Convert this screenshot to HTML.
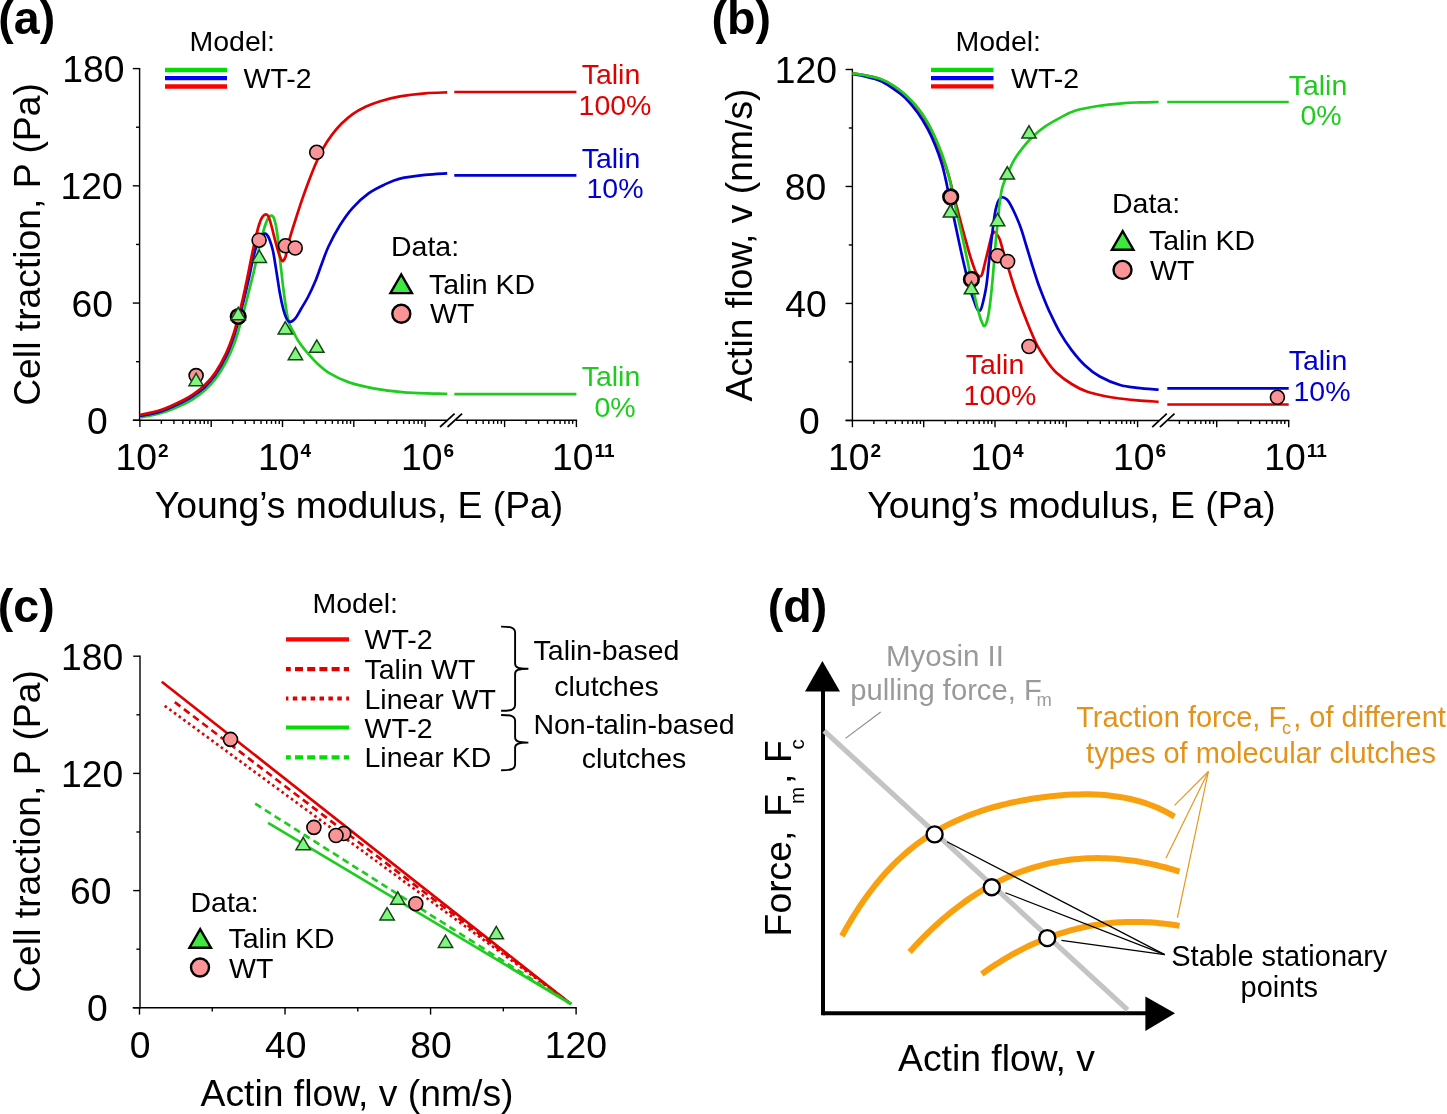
<!DOCTYPE html>
<html><head><meta charset="utf-8"><title>Figure</title><style>html,body{margin:0;padding:0;background:#fff;width:1447px;height:1114px;overflow:hidden}svg{display:block;font-family:"Liberation Sans",sans-serif;will-change:transform}</style></head><body>
<svg width="1447" height="1114" viewBox="0 0 1447 1114" font-family="Liberation Sans, sans-serif">
<line x1="139.6" y1="67.9" x2="139.6" y2="421" stroke="#000" stroke-width="1.4" />
<line x1="132.8" y1="68.6" x2="139.6" y2="68.6" stroke="#000" stroke-width="1.4" />
<line x1="136" y1="127.22" x2="139.6" y2="127.22" stroke="#000" stroke-width="1.4" />
<line x1="132.8" y1="185.83" x2="139.6" y2="185.83" stroke="#000" stroke-width="1.4" />
<line x1="136" y1="244.45" x2="139.6" y2="244.45" stroke="#000" stroke-width="1.4" />
<line x1="132.8" y1="303.07" x2="139.6" y2="303.07" stroke="#000" stroke-width="1.4" />
<line x1="136" y1="361.68" x2="139.6" y2="361.68" stroke="#000" stroke-width="1.4" />
<line x1="132.8" y1="420.3" x2="139.6" y2="420.3" stroke="#000" stroke-width="1.4" />
<line x1="133.1" y1="420.3" x2="446.8" y2="420.3" stroke="#000" stroke-width="1.5" />
<line x1="455.8" y1="420.3" x2="577.1" y2="420.3" stroke="#000" stroke-width="1.5" />
<line x1="139.9" y1="420.3" x2="139.9" y2="427.1" stroke="#000" stroke-width="1.4" />
<line x1="161.36" y1="420.3" x2="161.36" y2="423.9" stroke="#000" stroke-width="1.4" />
<line x1="173.92" y1="420.3" x2="173.92" y2="423.9" stroke="#000" stroke-width="1.4" />
<line x1="182.83" y1="420.3" x2="182.83" y2="423.9" stroke="#000" stroke-width="1.4" />
<line x1="189.74" y1="420.3" x2="189.74" y2="423.9" stroke="#000" stroke-width="1.4" />
<line x1="195.38" y1="420.3" x2="195.38" y2="423.9" stroke="#000" stroke-width="1.4" />
<line x1="200.16" y1="420.3" x2="200.16" y2="423.9" stroke="#000" stroke-width="1.4" />
<line x1="204.29" y1="420.3" x2="204.29" y2="423.9" stroke="#000" stroke-width="1.4" />
<line x1="207.94" y1="420.3" x2="207.94" y2="423.9" stroke="#000" stroke-width="1.4" />
<line x1="211.2" y1="420.3" x2="211.2" y2="427.1" stroke="#000" stroke-width="1.4" />
<line x1="232.66" y1="420.3" x2="232.66" y2="423.9" stroke="#000" stroke-width="1.4" />
<line x1="245.22" y1="420.3" x2="245.22" y2="423.9" stroke="#000" stroke-width="1.4" />
<line x1="254.13" y1="420.3" x2="254.13" y2="423.9" stroke="#000" stroke-width="1.4" />
<line x1="261.04" y1="420.3" x2="261.04" y2="423.9" stroke="#000" stroke-width="1.4" />
<line x1="266.68" y1="420.3" x2="266.68" y2="423.9" stroke="#000" stroke-width="1.4" />
<line x1="271.46" y1="420.3" x2="271.46" y2="423.9" stroke="#000" stroke-width="1.4" />
<line x1="275.59" y1="420.3" x2="275.59" y2="423.9" stroke="#000" stroke-width="1.4" />
<line x1="279.24" y1="420.3" x2="279.24" y2="423.9" stroke="#000" stroke-width="1.4" />
<line x1="282.5" y1="420.3" x2="282.5" y2="427.1" stroke="#000" stroke-width="1.4" />
<line x1="303.96" y1="420.3" x2="303.96" y2="423.9" stroke="#000" stroke-width="1.4" />
<line x1="316.52" y1="420.3" x2="316.52" y2="423.9" stroke="#000" stroke-width="1.4" />
<line x1="325.43" y1="420.3" x2="325.43" y2="423.9" stroke="#000" stroke-width="1.4" />
<line x1="332.34" y1="420.3" x2="332.34" y2="423.9" stroke="#000" stroke-width="1.4" />
<line x1="337.98" y1="420.3" x2="337.98" y2="423.9" stroke="#000" stroke-width="1.4" />
<line x1="342.76" y1="420.3" x2="342.76" y2="423.9" stroke="#000" stroke-width="1.4" />
<line x1="346.89" y1="420.3" x2="346.89" y2="423.9" stroke="#000" stroke-width="1.4" />
<line x1="350.54" y1="420.3" x2="350.54" y2="423.9" stroke="#000" stroke-width="1.4" />
<line x1="353.8" y1="420.3" x2="353.8" y2="427.1" stroke="#000" stroke-width="1.4" />
<line x1="375.26" y1="420.3" x2="375.26" y2="423.9" stroke="#000" stroke-width="1.4" />
<line x1="387.82" y1="420.3" x2="387.82" y2="423.9" stroke="#000" stroke-width="1.4" />
<line x1="396.73" y1="420.3" x2="396.73" y2="423.9" stroke="#000" stroke-width="1.4" />
<line x1="403.64" y1="420.3" x2="403.64" y2="423.9" stroke="#000" stroke-width="1.4" />
<line x1="409.28" y1="420.3" x2="409.28" y2="423.9" stroke="#000" stroke-width="1.4" />
<line x1="414.06" y1="420.3" x2="414.06" y2="423.9" stroke="#000" stroke-width="1.4" />
<line x1="418.19" y1="420.3" x2="418.19" y2="423.9" stroke="#000" stroke-width="1.4" />
<line x1="421.84" y1="420.3" x2="421.84" y2="423.9" stroke="#000" stroke-width="1.4" />
<line x1="425.1" y1="420.3" x2="425.1" y2="427.1" stroke="#000" stroke-width="1.4" />
<line x1="467.32" y1="420.3" x2="467.32" y2="423.9" stroke="#000" stroke-width="1.4" />
<line x1="476.23" y1="420.3" x2="476.23" y2="423.9" stroke="#000" stroke-width="1.4" />
<line x1="483.14" y1="420.3" x2="483.14" y2="423.9" stroke="#000" stroke-width="1.4" />
<line x1="488.78" y1="420.3" x2="488.78" y2="423.9" stroke="#000" stroke-width="1.4" />
<line x1="493.56" y1="420.3" x2="493.56" y2="423.9" stroke="#000" stroke-width="1.4" />
<line x1="497.69" y1="420.3" x2="497.69" y2="423.9" stroke="#000" stroke-width="1.4" />
<line x1="501.34" y1="420.3" x2="501.34" y2="423.9" stroke="#000" stroke-width="1.4" />
<line x1="526.06" y1="420.3" x2="526.06" y2="423.9" stroke="#000" stroke-width="1.4" />
<line x1="538.62" y1="420.3" x2="538.62" y2="423.9" stroke="#000" stroke-width="1.4" />
<line x1="547.53" y1="420.3" x2="547.53" y2="423.9" stroke="#000" stroke-width="1.4" />
<line x1="554.44" y1="420.3" x2="554.44" y2="423.9" stroke="#000" stroke-width="1.4" />
<line x1="560.08" y1="420.3" x2="560.08" y2="423.9" stroke="#000" stroke-width="1.4" />
<line x1="564.86" y1="420.3" x2="564.86" y2="423.9" stroke="#000" stroke-width="1.4" />
<line x1="568.99" y1="420.3" x2="568.99" y2="423.9" stroke="#000" stroke-width="1.4" />
<line x1="572.64" y1="420.3" x2="572.64" y2="423.9" stroke="#000" stroke-width="1.4" />
<line x1="504.6" y1="420.3" x2="504.6" y2="427.1" stroke="#000" stroke-width="1.4" />
<line x1="576.4" y1="420.3" x2="576.4" y2="427.1" stroke="#000" stroke-width="1.4" />
<line x1="440" y1="427" x2="454.6" y2="413.6" stroke="#000" stroke-width="1.7" />
<line x1="447.5" y1="427" x2="462.1" y2="413.6" stroke="#000" stroke-width="1.7" />
<text x="93.31" y="82.1" font-size="37.3" fill="#000" text-anchor="middle" >180</text>
<text x="91.71" y="199.33" font-size="37.3" fill="#000" text-anchor="middle" >120</text>
<text x="92.28" y="316.57" font-size="37.3" fill="#000" text-anchor="middle" >60</text>
<text x="97.3" y="433.8" font-size="37.3" fill="#000" text-anchor="middle" >0</text>
<text x="115.4" y="469.8" font-size="37.3">10<tspan font-size="19" font-weight="bold" dy="-13.3" dx="1.0">2</tspan></text>
<text x="258" y="469.8" font-size="37.3">10<tspan font-size="19" font-weight="bold" dy="-13.3" dx="1.0">4</tspan></text>
<text x="401" y="469.8" font-size="37.3">10<tspan font-size="19" font-weight="bold" dy="-13.3" dx="1.0">6</tspan></text>
<text x="551.9" y="469.8" font-size="37.3">10<tspan font-size="19" font-weight="bold" dy="-13.3" dx="1.0">11</tspan></text>
<text x="359" y="517.7" font-size="37.3" fill="#000" text-anchor="middle" >Young’s modulus, E (Pa)</text>
<text x="39.5" y="244.5" font-size="37.3" text-anchor="middle" transform="rotate(-90 39.5 244.5)">Cell traction, P (Pa)</text>
<text x="-1.7" y="34.4" font-size="46.5" fill="#000" font-weight="bold" >(a)</text>
<text x="189.5" y="50.6" font-size="28.5" fill="#000" >Model:</text>
<line x1="165" y1="70" x2="227" y2="70" stroke="#00e000" stroke-width="4.3" />
<line x1="165" y1="78.2" x2="227" y2="78.2" stroke="#0000ff" stroke-width="4.3" />
<line x1="165" y1="86.5" x2="227" y2="86.5" stroke="#ff0000" stroke-width="4.3" />
<text x="243.5" y="88" font-size="28.5" fill="#000" >WT-2</text>
<path d="M140,417.3 C143.58,416.58 154.32,415.15 161.5,413 C168.68,410.85 177.7,406.8 183.1,404.4 C188.5,402 190.32,400.9 193.9,398.6 C197.48,396.3 201.02,393.87 204.6,390.6 C208.18,387.33 211.8,383.85 215.4,379 C219,374.15 222.97,367.67 226.2,361.5 C229.43,355.33 232.28,348.83 234.8,342 C237.32,335.17 239.4,327.17 241.3,320.5 C243.2,313.83 244.67,307.92 246.2,302 C247.73,296.08 248.93,291.33 250.5,285 C252.07,278.67 254.02,270.83 255.6,264 C257.18,257.17 258.6,249.83 260,244 C261.4,238.17 262.75,233.08 264,229 C265.25,224.92 266.33,221.72 267.5,219.5 C268.67,217.28 269.92,215.87 271,215.7 C272.08,215.53 273,215.78 274,218.5 C275,221.22 275.97,224.92 277,232 C278.03,239.08 279.03,250.67 280.2,261 C281.37,271.33 282.73,284.5 284,294 C285.27,303.5 286.63,312.42 287.8,318 C288.97,323.58 289.97,325 291,327.5 C292.03,330 292.83,330.83 294,333 C295.17,335.17 296.18,337.7 298,340.5 C299.82,343.3 301.68,345.98 304.9,349.8 C308.12,353.62 313.15,359.47 317.3,363.4 C321.45,367.33 324.62,370.28 329.8,373.4 C334.98,376.52 341.15,379.62 348.4,382.1 C355.65,384.58 363.97,386.6 373.3,388.3 C382.63,390 392.07,391.37 404.4,392.3 C416.73,393.23 440.15,393.63 447.3,393.9" fill="none" stroke="#1ecc1e" stroke-width="2.7" stroke-linejoin="round" />
<path d="M140,416 C143.58,415.2 154.32,413.57 161.5,411.2 C168.68,408.83 177.7,404.42 183.1,401.8 C188.5,399.18 190.32,397.93 193.9,395.5 C197.48,393.07 201.02,390.65 204.6,387.2 C208.18,383.75 211.8,380 215.4,374.8 C219,369.6 223.1,362.47 226.2,356 C229.3,349.53 231.77,342.67 234,336 C236.23,329.33 238.02,321.83 239.6,316 C241.18,310.17 242.02,307 243.5,301 C244.98,295 246.92,287 248.5,280 C250.08,273 251.58,265 253,259 C254.42,253 255.75,247.75 257,244 C258.25,240.25 259.42,238.2 260.5,236.5 C261.58,234.8 262.5,234.18 263.5,233.8 C264.5,233.42 265.5,233.25 266.5,234.2 C267.5,235.15 268.42,236.7 269.5,239.5 C270.58,242.3 271.83,245.58 273,251 C274.17,256.42 275.33,264.83 276.5,272 C277.67,279.17 278.83,287.67 280,294 C281.17,300.33 282.42,305.92 283.5,310 C284.58,314.08 285.53,316.53 286.5,318.5 C287.47,320.47 288.3,321.38 289.3,321.8 C290.3,322.22 291.38,321.72 292.5,321 C293.62,320.28 294.58,319.5 296,317.5 C297.42,315.5 299,312.42 301,309 C303,305.58 305.6,301.67 308,297 C310.4,292.33 313.15,286.42 315.4,281 C317.65,275.58 319.32,270.25 321.5,264.5 C323.68,258.75 325.45,253 328.5,246.5 C331.55,240 335.77,231.95 339.8,225.5 C343.83,219.05 347.85,213.18 352.7,207.8 C357.55,202.42 363.52,197.1 368.9,193.2 C374.28,189.3 379.82,186.83 385,184.4 C390.18,181.97 393.33,180.18 400,178.6 C406.67,177.02 417.13,175.78 425,174.9 C432.87,174.02 443.5,173.57 447.2,173.3" fill="none" stroke="#0000d0" stroke-width="2.7" stroke-linejoin="round" />
<path d="M140,415 C143.58,414.13 154.32,412.27 161.5,409.8 C168.68,407.33 177.7,402.88 183.1,400.2 C188.5,397.52 190.32,396.2 193.9,393.7 C197.48,391.2 201.02,388.75 204.6,385.2 C208.18,381.65 211.8,377.77 215.4,372.4 C219,367.03 223.15,359.48 226.2,353 C229.25,346.52 231.55,340 233.7,333.5 C235.85,327 237.55,319.92 239.1,314 C240.65,308.08 241.63,304 243,298 C244.37,292 245.88,284.83 247.3,278 C248.72,271.17 250.12,263.67 251.5,257 C252.88,250.33 254.35,243.33 255.6,238 C256.85,232.67 257.93,228.42 259,225 C260.07,221.58 260.92,219.28 262,217.5 C263.08,215.72 264.42,214.47 265.5,214.3 C266.58,214.13 267.5,214.55 268.5,216.5 C269.5,218.45 270.42,222.08 271.5,226 C272.58,229.92 273.87,235.68 275,240 C276.13,244.32 277.3,248.73 278.3,251.9 C279.3,255.07 280.22,257.48 281,259 C281.78,260.52 282.23,261.42 283,261 C283.77,260.58 284.48,260.25 285.6,256.5 C286.72,252.75 287.93,245 289.7,238.5 C291.47,232 294.05,224.23 296.2,217.5 C298.35,210.77 300.45,204.3 302.6,198.1 C304.75,191.9 306.95,185.95 309.1,180.3 C311.25,174.65 313.22,169.45 315.5,164.2 C317.78,158.95 320.1,153.65 322.8,148.8 C325.5,143.95 328.6,139.27 331.7,135.1 C334.8,130.93 337.9,127.3 341.4,123.8 C344.9,120.3 348.67,116.93 352.7,114.1 C356.73,111.27 361.02,108.95 365.6,106.8 C370.18,104.65 374.47,102.95 380.2,101.2 C385.93,99.45 392.53,97.62 400,96.3 C407.47,94.98 417.13,93.95 425,93.3 C432.87,92.65 443.5,92.55 447.2,92.4" fill="none" stroke="#e00000" stroke-width="2.7" stroke-linejoin="round" />
<line x1="454.3" y1="92" x2="576.4" y2="92" stroke="#e00000" stroke-width="2.7" />
<line x1="454.3" y1="175.4" x2="576.4" y2="175.4" stroke="#0000d0" stroke-width="2.7" />
<line x1="454.3" y1="394.1" x2="576.4" y2="394.1" stroke="#1ecc1e" stroke-width="2.7" />
<text x="611" y="84.1" font-size="28.5" fill="#e00000" text-anchor="middle" >Talin</text>
<text x="615" y="114.6" font-size="28.5" fill="#e00000" text-anchor="middle" >100%</text>
<text x="611" y="167.7" font-size="28.5" fill="#0000d0" text-anchor="middle" >Talin</text>
<text x="615" y="198.4" font-size="28.5" fill="#0000d0" text-anchor="middle" >10%</text>
<text x="611" y="386.3" font-size="28.5" fill="#1ecc1e" text-anchor="middle" >Talin</text>
<text x="615" y="416.8" font-size="28.5" fill="#1ecc1e" text-anchor="middle" >0%</text>
<text x="391" y="256.3" font-size="28.5" fill="#000" >Data:</text>
<path d="M401.2,274.5 L390.45,293.1 L411.95,293.1 Z" fill="#3ee83e" stroke="#000" stroke-width="2.4" stroke-linejoin="miter"/>
<text x="429" y="294" font-size="28.5" fill="#000" >Talin KD</text>
<circle cx="401.3" cy="313.8" r="9" fill="#fb9496" stroke="#000" stroke-width="2.4"/>
<text x="430" y="323.3" font-size="28.5" fill="#000" >WT</text>
<circle cx="196.1" cy="375.6" r="7" fill="#fb9496" stroke="#000" stroke-width="1.6"/>
<circle cx="259.1" cy="240.2" r="7" fill="#fb9496" stroke="#000" stroke-width="1.6"/>
<circle cx="285.5" cy="245.8" r="7" fill="#fb9496" stroke="#000" stroke-width="1.6"/>
<circle cx="295.2" cy="248" r="7" fill="#fb9496" stroke="#000" stroke-width="1.6"/>
<circle cx="316.7" cy="152.3" r="7" fill="#fb9496" stroke="#000" stroke-width="1.6"/>
<circle cx="238.2" cy="316.5" r="7.3" fill="#fb9496" stroke="#000" stroke-width="2.6"/>
<path d="M196.1,373.35 L188.95,385.65 L203.25,385.65 Z" fill="#80f580" stroke="#154515" stroke-width="1.5" stroke-linejoin="miter"/>
<path d="M238.2,307.35 L231.05,319.65 L245.35,319.65 Z" fill="#80f580" stroke="#154515" stroke-width="1.5" stroke-linejoin="miter"/>
<path d="M259.3,250.15 L252.15,262.45 L266.45,262.45 Z" fill="#80f580" stroke="#154515" stroke-width="1.5" stroke-linejoin="miter"/>
<path d="M285.3,321.65 L278.15,333.95 L292.45,333.95 Z" fill="#80f580" stroke="#154515" stroke-width="1.5" stroke-linejoin="miter"/>
<path d="M295.4,347.35 L288.25,359.65 L302.55,359.65 Z" fill="#80f580" stroke="#154515" stroke-width="1.5" stroke-linejoin="miter"/>
<path d="M316.8,339.95 L309.65,352.25 L323.95,352.25 Z" fill="#80f580" stroke="#154515" stroke-width="1.5" stroke-linejoin="miter"/>
<line x1="852.4" y1="68.8" x2="852.4" y2="421.1" stroke="#000" stroke-width="1.4" />
<line x1="845.6" y1="69.5" x2="852.4" y2="69.5" stroke="#000" stroke-width="1.4" />
<line x1="848.8" y1="127.98" x2="852.4" y2="127.98" stroke="#000" stroke-width="1.4" />
<line x1="845.6" y1="186.47" x2="852.4" y2="186.47" stroke="#000" stroke-width="1.4" />
<line x1="848.8" y1="244.95" x2="852.4" y2="244.95" stroke="#000" stroke-width="1.4" />
<line x1="845.6" y1="303.43" x2="852.4" y2="303.43" stroke="#000" stroke-width="1.4" />
<line x1="848.8" y1="361.92" x2="852.4" y2="361.92" stroke="#000" stroke-width="1.4" />
<line x1="845.6" y1="420.4" x2="852.4" y2="420.4" stroke="#000" stroke-width="1.4" />
<line x1="845.6" y1="420.4" x2="1159" y2="420.4" stroke="#000" stroke-width="1.5" />
<line x1="1168.2" y1="420.4" x2="1289.4" y2="420.4" stroke="#000" stroke-width="1.5" />
<line x1="852.4" y1="420.4" x2="852.4" y2="427.2" stroke="#000" stroke-width="1.4" />
<line x1="873.86" y1="420.4" x2="873.86" y2="424" stroke="#000" stroke-width="1.4" />
<line x1="886.42" y1="420.4" x2="886.42" y2="424" stroke="#000" stroke-width="1.4" />
<line x1="895.33" y1="420.4" x2="895.33" y2="424" stroke="#000" stroke-width="1.4" />
<line x1="902.24" y1="420.4" x2="902.24" y2="424" stroke="#000" stroke-width="1.4" />
<line x1="907.88" y1="420.4" x2="907.88" y2="424" stroke="#000" stroke-width="1.4" />
<line x1="912.66" y1="420.4" x2="912.66" y2="424" stroke="#000" stroke-width="1.4" />
<line x1="916.79" y1="420.4" x2="916.79" y2="424" stroke="#000" stroke-width="1.4" />
<line x1="920.44" y1="420.4" x2="920.44" y2="424" stroke="#000" stroke-width="1.4" />
<line x1="923.7" y1="420.4" x2="923.7" y2="427.2" stroke="#000" stroke-width="1.4" />
<line x1="945.16" y1="420.4" x2="945.16" y2="424" stroke="#000" stroke-width="1.4" />
<line x1="957.72" y1="420.4" x2="957.72" y2="424" stroke="#000" stroke-width="1.4" />
<line x1="966.63" y1="420.4" x2="966.63" y2="424" stroke="#000" stroke-width="1.4" />
<line x1="973.54" y1="420.4" x2="973.54" y2="424" stroke="#000" stroke-width="1.4" />
<line x1="979.18" y1="420.4" x2="979.18" y2="424" stroke="#000" stroke-width="1.4" />
<line x1="983.96" y1="420.4" x2="983.96" y2="424" stroke="#000" stroke-width="1.4" />
<line x1="988.09" y1="420.4" x2="988.09" y2="424" stroke="#000" stroke-width="1.4" />
<line x1="991.74" y1="420.4" x2="991.74" y2="424" stroke="#000" stroke-width="1.4" />
<line x1="995" y1="420.4" x2="995" y2="427.2" stroke="#000" stroke-width="1.4" />
<line x1="1016.46" y1="420.4" x2="1016.46" y2="424" stroke="#000" stroke-width="1.4" />
<line x1="1029.02" y1="420.4" x2="1029.02" y2="424" stroke="#000" stroke-width="1.4" />
<line x1="1037.93" y1="420.4" x2="1037.93" y2="424" stroke="#000" stroke-width="1.4" />
<line x1="1044.84" y1="420.4" x2="1044.84" y2="424" stroke="#000" stroke-width="1.4" />
<line x1="1050.48" y1="420.4" x2="1050.48" y2="424" stroke="#000" stroke-width="1.4" />
<line x1="1055.26" y1="420.4" x2="1055.26" y2="424" stroke="#000" stroke-width="1.4" />
<line x1="1059.39" y1="420.4" x2="1059.39" y2="424" stroke="#000" stroke-width="1.4" />
<line x1="1063.04" y1="420.4" x2="1063.04" y2="424" stroke="#000" stroke-width="1.4" />
<line x1="1066.3" y1="420.4" x2="1066.3" y2="427.2" stroke="#000" stroke-width="1.4" />
<line x1="1087.76" y1="420.4" x2="1087.76" y2="424" stroke="#000" stroke-width="1.4" />
<line x1="1100.32" y1="420.4" x2="1100.32" y2="424" stroke="#000" stroke-width="1.4" />
<line x1="1109.23" y1="420.4" x2="1109.23" y2="424" stroke="#000" stroke-width="1.4" />
<line x1="1116.14" y1="420.4" x2="1116.14" y2="424" stroke="#000" stroke-width="1.4" />
<line x1="1121.78" y1="420.4" x2="1121.78" y2="424" stroke="#000" stroke-width="1.4" />
<line x1="1126.56" y1="420.4" x2="1126.56" y2="424" stroke="#000" stroke-width="1.4" />
<line x1="1130.69" y1="420.4" x2="1130.69" y2="424" stroke="#000" stroke-width="1.4" />
<line x1="1134.34" y1="420.4" x2="1134.34" y2="424" stroke="#000" stroke-width="1.4" />
<line x1="1137.6" y1="420.4" x2="1137.6" y2="427.2" stroke="#000" stroke-width="1.4" />
<line x1="1179.42" y1="420.4" x2="1179.42" y2="424" stroke="#000" stroke-width="1.4" />
<line x1="1188.33" y1="420.4" x2="1188.33" y2="424" stroke="#000" stroke-width="1.4" />
<line x1="1195.24" y1="420.4" x2="1195.24" y2="424" stroke="#000" stroke-width="1.4" />
<line x1="1200.88" y1="420.4" x2="1200.88" y2="424" stroke="#000" stroke-width="1.4" />
<line x1="1205.66" y1="420.4" x2="1205.66" y2="424" stroke="#000" stroke-width="1.4" />
<line x1="1209.79" y1="420.4" x2="1209.79" y2="424" stroke="#000" stroke-width="1.4" />
<line x1="1213.44" y1="420.4" x2="1213.44" y2="424" stroke="#000" stroke-width="1.4" />
<line x1="1238.16" y1="420.4" x2="1238.16" y2="424" stroke="#000" stroke-width="1.4" />
<line x1="1250.72" y1="420.4" x2="1250.72" y2="424" stroke="#000" stroke-width="1.4" />
<line x1="1259.63" y1="420.4" x2="1259.63" y2="424" stroke="#000" stroke-width="1.4" />
<line x1="1266.54" y1="420.4" x2="1266.54" y2="424" stroke="#000" stroke-width="1.4" />
<line x1="1272.18" y1="420.4" x2="1272.18" y2="424" stroke="#000" stroke-width="1.4" />
<line x1="1276.96" y1="420.4" x2="1276.96" y2="424" stroke="#000" stroke-width="1.4" />
<line x1="1281.09" y1="420.4" x2="1281.09" y2="424" stroke="#000" stroke-width="1.4" />
<line x1="1284.74" y1="420.4" x2="1284.74" y2="424" stroke="#000" stroke-width="1.4" />
<line x1="1216.7" y1="420.4" x2="1216.7" y2="427.2" stroke="#000" stroke-width="1.4" />
<line x1="1288.7" y1="420.4" x2="1288.7" y2="427.2" stroke="#000" stroke-width="1.4" />
<line x1="1152.2" y1="427.1" x2="1166.8" y2="413.7" stroke="#000" stroke-width="1.7" />
<line x1="1159.9" y1="427.1" x2="1174.5" y2="413.7" stroke="#000" stroke-width="1.7" />
<text x="805.81" y="83" font-size="37.3" fill="#000" text-anchor="middle" >120</text>
<text x="805.62" y="199.97" font-size="37.3" fill="#000" text-anchor="middle" >80</text>
<text x="806.1" y="316.93" font-size="37.3" fill="#000" text-anchor="middle" >40</text>
<text x="809.4" y="433.9" font-size="37.3" fill="#000" text-anchor="middle" >0</text>
<text x="827.9" y="469.8" font-size="37.3">10<tspan font-size="19" font-weight="bold" dy="-13.3" dx="1.0">2</tspan></text>
<text x="970.5" y="469.8" font-size="37.3">10<tspan font-size="19" font-weight="bold" dy="-13.3" dx="1.0">4</tspan></text>
<text x="1113.1" y="469.8" font-size="37.3">10<tspan font-size="19" font-weight="bold" dy="-13.3" dx="1.0">6</tspan></text>
<text x="1264.2" y="469.8" font-size="37.3">10<tspan font-size="19" font-weight="bold" dy="-13.3" dx="1.0">11</tspan></text>
<text x="1071.5" y="517.7" font-size="37.3" fill="#000" text-anchor="middle" >Young’s modulus, E (Pa)</text>
<text x="752" y="245" font-size="37.3" text-anchor="middle" transform="rotate(-90 752 245)">Actin flow, v (nm/s)</text>
<text x="711.5" y="33.5" font-size="46.5" fill="#000" font-weight="bold" >(b)</text>
<text x="955.5" y="50.6" font-size="28.5" fill="#000" >Model:</text>
<line x1="931" y1="69.9" x2="993.5" y2="69.9" stroke="#00e000" stroke-width="4.3" />
<line x1="931" y1="78.1" x2="993.5" y2="78.1" stroke="#0000ff" stroke-width="4.3" />
<line x1="931" y1="86.4" x2="993.5" y2="86.4" stroke="#ff0000" stroke-width="4.3" />
<text x="1011" y="88" font-size="28.5" fill="#000" >WT-2</text>
<path d="M852.4,73.3 C854.5,73.63 860.4,74.37 865,75.3 C869.6,76.23 875.4,77.23 880,78.9 C884.6,80.57 888.42,82.62 892.6,85.3 C896.78,87.98 900.92,91.13 905.1,95 C909.28,98.87 913.92,103.67 917.7,108.5 C921.48,113.33 924.87,118.83 927.8,124 C930.73,129.17 933,134.33 935.3,139.5 C937.6,144.67 939.82,150.33 941.6,155 C943.38,159.67 944.7,163.67 946,167.5 C947.3,171.33 948.33,174.25 949.4,178 C950.47,181.75 951.38,186 952.4,190 C953.42,194 954.48,198.08 955.5,202 C956.52,205.92 957.52,209.75 958.5,213.5 C959.48,217.25 960.42,220.83 961.4,224.5 C962.38,228.17 963.4,231.85 964.4,235.5 C965.4,239.15 966.37,242.73 967.4,246.4 C968.43,250.07 969.53,254.07 970.6,257.5 C971.67,260.93 972.82,264.33 973.8,267 C974.78,269.67 975.55,271.9 976.5,273.5 C977.45,275.1 978.58,276.43 979.5,276.6 C980.42,276.77 981.13,276.6 982,274.5 C982.87,272.4 983.45,269.07 984.7,264 C985.95,258.93 988.32,248.93 989.5,244.1 C990.68,239.27 991.12,237.02 991.8,235 C992.48,232.98 992.98,232.37 993.6,232 C994.22,231.63 994.83,232.22 995.5,232.8 C996.17,233.38 996.85,234.3 997.6,235.5 C998.35,236.7 999.02,237.17 1000,240 C1000.98,242.83 1002.25,248.27 1003.5,252.5 C1004.75,256.73 1005.57,259.18 1007.5,265.4 C1009.43,271.62 1012.58,282.27 1015.1,289.8 C1017.62,297.33 1020.1,304 1022.6,310.6 C1025.1,317.2 1027.58,323.43 1030.1,329.4 C1032.62,335.37 1034.87,341.07 1037.7,346.4 C1040.53,351.73 1043.97,357.02 1047.1,361.4 C1050.23,365.78 1052.42,368.93 1056.5,372.7 C1060.58,376.47 1066.57,380.85 1071.6,384 C1076.63,387.15 1081.05,389.55 1086.7,391.6 C1092.35,393.65 1099.95,395.15 1105.5,396.3 C1111.05,397.45 1114.7,397.83 1120,398.5 C1125.3,399.17 1130.87,399.75 1137.3,400.3 C1143.73,400.85 1155.05,401.55 1158.6,401.8" fill="none" stroke="#e00000" stroke-width="2.7" stroke-linejoin="round" />
<path d="M852.4,74 C854.5,74.42 860.4,75.38 865,76.5 C869.6,77.62 875.4,78.75 880,80.7 C884.6,82.65 888.42,85.37 892.6,88.2 C896.78,91.03 900.92,93.62 905.1,97.7 C909.28,101.78 913.92,107.47 917.7,112.7 C921.48,117.93 924.87,123.65 927.8,129.1 C930.73,134.55 933,139.75 935.3,145.4 C937.6,151.05 939.92,157.55 941.6,163 C943.28,168.45 944.33,173.53 945.4,178.1 C946.47,182.67 947.03,185.83 948,190.4 C948.97,194.97 950.12,200.47 951.2,205.5 C952.28,210.53 952.88,213.07 954.5,220.6 C956.12,228.13 958.75,241.02 960.9,250.7 C963.05,260.38 965.8,271.98 967.4,278.7 C969,285.42 969.43,287.4 970.5,291 C971.57,294.6 972.88,297.72 973.8,300.3 C974.72,302.88 975.27,304.8 976,306.5 C976.73,308.2 977.52,309.87 978.2,310.5 C978.88,311.13 979.43,311.13 980.1,310.3 C980.77,309.47 981.17,309.53 982.2,305.5 C983.23,301.47 985.08,294.18 986.3,286.1 C987.52,278.02 988.15,268.58 989.5,257 C990.85,245.42 993.1,225.5 994.4,216.6 C995.7,207.7 996.5,206.43 997.3,203.6 C998.1,200.77 998.48,200.63 999.2,199.6 C999.92,198.57 1000.72,197.7 1001.6,197.4 C1002.48,197.1 1003.33,197.12 1004.5,197.8 C1005.67,198.48 1006.83,198.8 1008.6,201.5 C1010.37,204.2 1013.03,209.5 1015.1,214 C1017.17,218.5 1019.12,223.17 1021,228.5 C1022.88,233.83 1024.57,240 1026.4,246 C1028.23,252 1030.12,258.45 1032,264.5 C1033.88,270.55 1035.82,276.88 1037.7,282.3 C1039.58,287.72 1041.42,292.28 1043.3,297 C1045.18,301.72 1046.17,304.57 1049,310.6 C1051.83,316.63 1056.53,326.62 1060.3,333.2 C1064.07,339.78 1067.52,344.77 1071.6,350.1 C1075.68,355.43 1080.1,360.8 1084.8,365.2 C1089.5,369.6 1093.93,373.2 1099.8,376.5 C1105.67,379.8 1113.75,383.12 1120,385 C1126.25,386.88 1130.87,387.03 1137.3,387.8 C1143.73,388.57 1155.05,389.3 1158.6,389.6" fill="none" stroke="#0000d0" stroke-width="2.7" stroke-linejoin="round" />
<path d="M852.4,73.3 C854.5,73.63 860.4,74.38 865,75.3 C869.6,76.22 875.4,77.17 880,78.8 C884.6,80.43 888.42,82.48 892.6,85.1 C896.78,87.72 900.92,90.73 905.1,94.5 C909.28,98.27 913.92,102.98 917.7,107.7 C921.48,112.42 924.87,117.77 927.8,122.8 C930.73,127.83 933,132.87 935.3,137.9 C937.6,142.93 939.72,147.98 941.6,153 C943.48,158.02 945.13,162.98 946.6,168 C948.07,173.02 949.12,177.43 950.4,183.1 C951.68,188.77 953.08,196.35 954.3,202 C955.52,207.65 956.55,212 957.7,217 C958.85,222 960.05,226.92 961.2,232 C962.35,237.08 963.47,242.25 964.6,247.5 C965.73,252.75 966.88,258.08 968,263.5 C969.12,268.92 970.22,274.67 971.3,280 C972.38,285.33 973.47,290.83 974.5,295.5 C975.53,300.17 976.5,304.17 977.5,308 C978.5,311.83 979.67,315.92 980.5,318.5 C981.33,321.08 981.92,322.23 982.5,323.5 C983.08,324.77 983.42,326.02 984,326.1 C984.58,326.18 985.3,325.68 986,324 C986.7,322.32 987.45,320 988.2,316 C988.95,312 989.7,306.83 990.5,300 C991.3,293.17 992.08,285.33 993,275 C993.92,264.67 995.2,246.83 996,238 C996.8,229.17 997.23,227.5 997.8,222 C998.37,216.5 998.78,210.17 999.4,205 C1000.02,199.83 1000.77,194.67 1001.5,191 C1002.23,187.33 1002.98,185.38 1003.8,183 C1004.62,180.62 1004.72,180.47 1006.4,176.7 C1008.08,172.93 1011.18,165.22 1013.9,160.4 C1016.62,155.58 1019.55,151.78 1022.7,147.8 C1025.85,143.82 1029.03,140.07 1032.8,136.5 C1036.57,132.93 1040.7,129.55 1045.3,126.4 C1049.9,123.25 1055.45,120.22 1060.4,117.6 C1065.35,114.98 1068.73,112.63 1075,110.7 C1081.27,108.77 1090.17,107.23 1098,106 C1105.83,104.77 1115,103.9 1122,103.3 C1129,102.7 1133.9,102.62 1140,102.4 C1146.1,102.18 1155.5,102.07 1158.6,102" fill="none" stroke="#1ecc1e" stroke-width="2.7" stroke-linejoin="round" />
<line x1="1167.3" y1="102" x2="1288.7" y2="102" stroke="#1ecc1e" stroke-width="2.7" />
<line x1="1167.3" y1="388.4" x2="1288.7" y2="388.4" stroke="#0000d0" stroke-width="2.7" />
<line x1="1167.3" y1="404.5" x2="1288.7" y2="404.5" stroke="#e00000" stroke-width="2.7" />
<text x="1318" y="94.8" font-size="28.5" fill="#1ecc1e" text-anchor="middle" >Talin</text>
<text x="1321" y="125.3" font-size="28.5" fill="#1ecc1e" text-anchor="middle" >0%</text>
<text x="1318" y="369.7" font-size="28.5" fill="#0000d0" text-anchor="middle" >Talin</text>
<text x="1322" y="400.6" font-size="28.5" fill="#0000d0" text-anchor="middle" >10%</text>
<text x="995" y="374.1" font-size="28.5" fill="#e00000" text-anchor="middle" >Talin</text>
<text x="1000" y="405.2" font-size="28.5" fill="#e00000" text-anchor="middle" >100%</text>
<text x="1112" y="212.5" font-size="28.5" fill="#000" >Data:</text>
<path d="M1122.7,231.1 L1111.95,249.7 L1133.45,249.7 Z" fill="#3ee83e" stroke="#000" stroke-width="2.4" stroke-linejoin="miter"/>
<text x="1149" y="250" font-size="28.5" fill="#000" >Talin KD</text>
<circle cx="1122.5" cy="269.9" r="9" fill="#fb9496" stroke="#000" stroke-width="2.4"/>
<text x="1150" y="279.8" font-size="28.5" fill="#000" >WT</text>
<circle cx="997.6" cy="255.7" r="7" fill="#fb9496" stroke="#000" stroke-width="1.6"/>
<circle cx="1007.6" cy="261.5" r="7" fill="#fb9496" stroke="#000" stroke-width="1.6"/>
<circle cx="1029" cy="346.5" r="7" fill="#fb9496" stroke="#000" stroke-width="1.6"/>
<circle cx="1277.4" cy="397.3" r="7" fill="#fb9496" stroke="#000" stroke-width="1.6"/>
<circle cx="950.7" cy="196.9" r="7.3" fill="#fb9496" stroke="#000" stroke-width="2.6"/>
<circle cx="971.4" cy="279.3" r="7.3" fill="#fb9496" stroke="#000" stroke-width="2.6"/>
<path d="M950.4,204.75 L943.25,217.05 L957.55,217.05 Z" fill="#80f580" stroke="#154515" stroke-width="1.5" stroke-linejoin="miter"/>
<path d="M971.4,281.55 L964.25,293.85 L978.55,293.85 Z" fill="#80f580" stroke="#154515" stroke-width="1.5" stroke-linejoin="miter"/>
<path d="M997.6,213.35 L990.45,225.65 L1004.75,225.65 Z" fill="#80f580" stroke="#154515" stroke-width="1.5" stroke-linejoin="miter"/>
<path d="M1007.3,166.75 L1000.15,179.05 L1014.45,179.05 Z" fill="#80f580" stroke="#154515" stroke-width="1.5" stroke-linejoin="miter"/>
<path d="M1029,125.75 L1021.85,138.05 L1036.15,138.05 Z" fill="#80f580" stroke="#154515" stroke-width="1.5" stroke-linejoin="miter"/>
<line x1="140" y1="655.5" x2="140" y2="1008.5" stroke="#000" stroke-width="1.4" />
<line x1="133.2" y1="656.2" x2="140" y2="656.2" stroke="#000" stroke-width="1.4" />
<line x1="136.4" y1="714.8" x2="140" y2="714.8" stroke="#000" stroke-width="1.4" />
<line x1="133.2" y1="773.4" x2="140" y2="773.4" stroke="#000" stroke-width="1.4" />
<line x1="136.4" y1="832" x2="140" y2="832" stroke="#000" stroke-width="1.4" />
<line x1="133.2" y1="890.6" x2="140" y2="890.6" stroke="#000" stroke-width="1.4" />
<line x1="136.4" y1="949.2" x2="140" y2="949.2" stroke="#000" stroke-width="1.4" />
<line x1="133.2" y1="1007.8" x2="140" y2="1007.8" stroke="#000" stroke-width="1.4" />
<line x1="132.7" y1="1007.8" x2="576.8" y2="1007.8" stroke="#000" stroke-width="1.4" />
<line x1="139.5" y1="1007.8" x2="139.5" y2="1014.6" stroke="#000" stroke-width="1.4" />
<line x1="212.27" y1="1007.8" x2="212.27" y2="1011.4" stroke="#000" stroke-width="1.4" />
<line x1="285.03" y1="1007.8" x2="285.03" y2="1014.6" stroke="#000" stroke-width="1.4" />
<line x1="357.8" y1="1007.8" x2="357.8" y2="1011.4" stroke="#000" stroke-width="1.4" />
<line x1="430.57" y1="1007.8" x2="430.57" y2="1014.6" stroke="#000" stroke-width="1.4" />
<line x1="503.33" y1="1007.8" x2="503.33" y2="1011.4" stroke="#000" stroke-width="1.4" />
<line x1="576.1" y1="1007.8" x2="576.1" y2="1014.6" stroke="#000" stroke-width="1.4" />
<text x="92.11" y="669.7" font-size="37.3" fill="#000" text-anchor="middle" >180</text>
<text x="92.11" y="786.9" font-size="37.3" fill="#000" text-anchor="middle" >120</text>
<text x="90.78" y="904.1" font-size="37.3" fill="#000" text-anchor="middle" >60</text>
<text x="97.4" y="1021.3" font-size="37.3" fill="#000" text-anchor="middle" >0</text>
<text x="140" y="1057.5" font-size="37.3" fill="#000" text-anchor="middle" >0</text>
<text x="285.83" y="1057.5" font-size="37.3" fill="#000" text-anchor="middle" >40</text>
<text x="430.98" y="1057.5" font-size="37.3" fill="#000" text-anchor="middle" >80</text>
<text x="575.91" y="1057.5" font-size="37.3" fill="#000" text-anchor="middle" >120</text>
<text x="357" y="1105.5" font-size="37.3" fill="#000" text-anchor="middle" >Actin flow, v (nm/s)</text>
<text x="39.8" y="831.5" font-size="37.3" text-anchor="middle" transform="rotate(-90 39.8 831.5)">Cell traction, P (Pa)</text>
<text x="-2.2" y="622.1" font-size="46.5" fill="#000" font-weight="bold" >(c)</text>
<line x1="161.8" y1="681.7" x2="571" y2="1004" stroke="#e00000" stroke-width="2.7" />
<line x1="174.8" y1="702.1" x2="571" y2="1004" stroke="#e00000" stroke-width="2.7" stroke-dasharray="7,4.5"/>
<line x1="164.7" y1="705.8" x2="571" y2="1004" stroke="#e00000" stroke-width="2.7" stroke-dasharray="2.6,3.2"/>
<line x1="268.1" y1="822.8" x2="571" y2="1004" stroke="#1ecc1e" stroke-width="2.7" />
<line x1="255.2" y1="803.7" x2="571" y2="1004" stroke="#1ecc1e" stroke-width="2.7" stroke-dasharray="7,4.5"/>
<text x="312.5" y="612.6" font-size="28.5" fill="#000" >Model:</text>
<line x1="286" y1="639.4" x2="349" y2="639.4" stroke="#ff0000" stroke-width="4.2" />
<line x1="286" y1="669.1" x2="349" y2="669.1" stroke="#e00000" stroke-width="4.2" stroke-dasharray="8,4.2" stroke-dashoffset="3.2"/>
<line x1="286" y1="698.5" x2="349" y2="698.5" stroke="#e00000" stroke-width="4.2" stroke-dasharray="4.5,4.4" stroke-dashoffset="2.1"/>
<line x1="286" y1="727.5" x2="349" y2="727.5" stroke="#00e000" stroke-width="4.2" />
<line x1="286" y1="757.3" x2="349" y2="757.3" stroke="#00e000" stroke-width="4.2" stroke-dasharray="8,4.2" stroke-dashoffset="3.2"/>
<text x="364.5" y="649.4" font-size="28.5" fill="#000" >WT-2</text>
<text x="364.5" y="679.1" font-size="28.5" fill="#000" >Talin WT</text>
<text x="364.5" y="708.5" font-size="28.5" fill="#000" >Linear WT</text>
<text x="364.5" y="737.5" font-size="28.5" fill="#000" >WT-2</text>
<text x="364.5" y="767.3" font-size="28.5" fill="#000" >Linear KD</text>
<path d="M501.1,626.6 C510.1,626.6 515.1,627.1 515.1,632.6 L515.1,663.7 C515.1,667.2 518.1,668.7 528.4,668.7 C518.1,668.7 515.1,670.2 515.1,673.7 L515.1,704.8 C515.1,710.3 510.1,710.8 501.1,710.8" fill="none" stroke="#000" stroke-width="1.9"/>
<path d="M501.1,715 C510.1,715 515.1,715.5 515.1,721 L515.1,737.6 C515.1,741.1 518.1,742.6 528.4,742.6 C518.1,742.6 515.1,744.1 515.1,747.6 L515.1,764.2 C515.1,769.7 510.1,770.2 501.1,770.2" fill="none" stroke="#000" stroke-width="1.9"/>
<text x="606.5" y="660.2" font-size="28.5" fill="#000" text-anchor="middle" >Talin-based</text>
<text x="606.5" y="695.8" font-size="28.5" fill="#000" text-anchor="middle" >clutches</text>
<text x="634" y="733.8" font-size="28.5" fill="#000" text-anchor="middle" >Non-talin-based</text>
<text x="634" y="768.3" font-size="28.5" fill="#000" text-anchor="middle" >clutches</text>
<text x="190.5" y="912.3" font-size="28.5" fill="#000" >Data:</text>
<path d="M200.2,929.1 L189.45,947.7 L210.95,947.7 Z" fill="#3ee83e" stroke="#000" stroke-width="2.4" stroke-linejoin="miter"/>
<text x="228.5" y="947.8" font-size="28.5" fill="#000" >Talin KD</text>
<circle cx="200" cy="967.5" r="9" fill="#fb9496" stroke="#000" stroke-width="2.4"/>
<text x="229" y="977.8" font-size="28.5" fill="#000" >WT</text>
<path d="M303.2,837.35 L296.05,849.65 L310.35,849.65 Z" fill="#80f580" stroke="#154515" stroke-width="1.5" stroke-linejoin="miter"/>
<path d="M387.1,907.65 L379.95,919.95 L394.25,919.95 Z" fill="#80f580" stroke="#154515" stroke-width="1.5" stroke-linejoin="miter"/>
<path d="M397.8,891.85 L390.65,904.15 L404.95,904.15 Z" fill="#80f580" stroke="#154515" stroke-width="1.5" stroke-linejoin="miter"/>
<path d="M445.5,935.15 L438.35,947.45 L452.65,947.45 Z" fill="#80f580" stroke="#154515" stroke-width="1.5" stroke-linejoin="miter"/>
<path d="M496.3,926.45 L489.15,938.75 L503.45,938.75 Z" fill="#80f580" stroke="#154515" stroke-width="1.5" stroke-linejoin="miter"/>
<circle cx="230.5" cy="739.4" r="7" fill="#fb9496" stroke="#000" stroke-width="1.6"/>
<circle cx="313.9" cy="827.4" r="7" fill="#fb9496" stroke="#000" stroke-width="1.6"/>
<circle cx="343.7" cy="833.5" r="7" fill="#fb9496" stroke="#000" stroke-width="1.6"/>
<circle cx="336" cy="835.5" r="7" fill="#fb9496" stroke="#000" stroke-width="1.6"/>
<circle cx="415.8" cy="903.7" r="7" fill="#fb9496" stroke="#000" stroke-width="1.6"/>
<text x="767.8" y="621.9" font-size="46.5" fill="#000" font-weight="bold" >(d)</text>
<line x1="823" y1="1013.3" x2="1150" y2="1013.3" stroke="#000" stroke-width="4" />
<line x1="823" y1="1015.3" x2="823" y2="688" stroke="#000" stroke-width="4" />
<path d="M822.4,661 L805,691.5 L840,691.5 Z" fill="#000"/>
<path d="M1175,1013.3 L1145.4,996.5 L1145.4,1031 Z" fill="#000"/>
<line x1="824.2" y1="730.9" x2="1127.6" y2="1009.8" stroke="#c4c4c4" stroke-width="5.2" />
<line x1="845.5" y1="738.4" x2="880.7" y2="712" stroke="#8a8a8a" stroke-width="1.1" />
<path d="M841.9,936.05 L847.54,926.03 L853.17,916.62 L858.81,907.79 L864.45,899.51 L870.09,891.75 L875.72,884.49 L881.36,877.69 L887,871.34 L892.64,865.4 L898.27,859.85 L903.91,854.68 L909.55,849.85 L915.18,845.36 L920.82,841.16 L926.46,837.26 L932.1,833.62 L937.73,830.24 L943.37,827.09 L949.01,824.16 L954.65,821.43 L960.28,818.9 L965.92,816.54 L971.56,814.34 L977.19,812.3 L982.83,810.41 L988.47,808.64 L994.11,807 L999.74,805.48 L1005.38,804.07 L1011.02,802.77 L1016.66,801.56 L1022.29,800.45 L1027.93,799.44 L1033.57,798.51 L1039.21,797.67 L1044.84,796.92 L1050.48,796.26 L1056.12,795.7 L1061.75,795.22 L1067.39,794.84 L1073.03,794.56 L1078.67,794.38 L1084.3,794.32 L1089.94,794.37 L1095.58,794.54 L1101.22,794.85 L1106.85,795.31 L1112.49,795.91 L1118.13,796.68 L1123.76,797.63 L1129.4,798.76 L1135.04,800.1 L1140.68,801.66 L1146.31,803.45 L1151.95,805.49 L1157.59,807.81 L1163.23,810.4 L1168.86,813.31 L1174.5,816.53" fill="none" stroke="#f9a010" stroke-width="6" stroke-linejoin="round"/>
<path d="M909.6,952.06 L914.17,947 L918.75,942.11 L923.32,937.39 L927.9,932.83 L932.47,928.43 L937.05,924.19 L941.62,920.11 L946.2,916.19 L950.77,912.41 L955.35,908.79 L959.92,905.31 L964.49,901.97 L969.07,898.77 L973.64,895.72 L978.22,892.8 L982.79,890.01 L987.37,887.36 L991.94,884.83 L996.52,882.44 L1001.09,880.17 L1005.67,878.02 L1010.24,875.99 L1014.82,874.09 L1019.39,872.3 L1023.96,870.62 L1028.54,869.06 L1033.11,867.61 L1037.69,866.27 L1042.26,865.04 L1046.84,863.91 L1051.41,862.89 L1055.99,861.98 L1060.56,861.16 L1065.14,860.45 L1069.71,859.83 L1074.28,859.31 L1078.86,858.89 L1083.43,858.56 L1088.01,858.32 L1092.58,858.18 L1097.16,858.12 L1101.73,858.16 L1106.31,858.28 L1110.88,858.49 L1115.46,858.79 L1120.03,859.18 L1124.61,859.64 L1129.18,860.19 L1133.75,860.83 L1138.33,861.54 L1142.9,862.34 L1147.48,863.22 L1152.05,864.17 L1156.63,865.21 L1161.2,866.32 L1165.78,867.51 L1170.35,868.78 L1174.93,870.13 L1179.5,871.55" fill="none" stroke="#f9a010" stroke-width="6" stroke-linejoin="round"/>
<path d="M981.8,974.02 L985.15,971.62 L988.5,969.29 L991.85,967.03 L995.2,964.82 L998.55,962.67 L1001.91,960.58 L1005.26,958.55 L1008.61,956.58 L1011.96,954.67 L1015.31,952.82 L1018.66,951.03 L1022.01,949.29 L1025.36,947.61 L1028.71,945.99 L1032.06,944.42 L1035.41,942.91 L1038.76,941.46 L1042.12,940.06 L1045.47,938.72 L1048.82,937.43 L1052.17,936.19 L1055.52,935.01 L1058.87,933.89 L1062.22,932.81 L1065.57,931.79 L1068.92,930.82 L1072.27,929.91 L1075.62,929.04 L1078.97,928.23 L1082.33,927.47 L1085.68,926.76 L1089.03,926.09 L1092.38,925.48 L1095.73,924.92 L1099.08,924.41 L1102.43,923.94 L1105.78,923.53 L1109.13,923.16 L1112.48,922.84 L1115.83,922.56 L1119.18,922.34 L1122.54,922.16 L1125.89,922.02 L1129.24,921.93 L1132.59,921.89 L1135.94,921.89 L1139.29,921.94 L1142.64,922.03 L1145.99,922.17 L1149.34,922.34 L1152.69,922.57 L1156.04,922.83 L1159.39,923.14 L1162.75,923.49 L1166.1,923.88 L1169.45,924.31 L1172.8,924.78 L1176.15,925.29 L1179.5,925.85" fill="none" stroke="#f9a010" stroke-width="6" stroke-linejoin="round"/>
<line x1="1208.4" y1="771.5" x2="1174.6" y2="805.4" stroke="#e8961a" stroke-width="1.2" />
<line x1="1208.4" y1="771.5" x2="1165.9" y2="858.3" stroke="#e8961a" stroke-width="1.2" />
<line x1="1208.4" y1="771.5" x2="1177.4" y2="917.8" stroke="#e8961a" stroke-width="1.2" />
<line x1="1164.7" y1="954.6" x2="947" y2="841.7" stroke="#000" stroke-width="1.2" />
<line x1="1164.7" y1="954.6" x2="1005.4" y2="892.7" stroke="#000" stroke-width="1.2" />
<line x1="1164.7" y1="954.6" x2="1061.4" y2="940.4" stroke="#000" stroke-width="1.2" />
<circle cx="934.6" cy="834.4" r="8" fill="#fff" stroke="#000" stroke-width="2.4"/>
<circle cx="991.8" cy="887.3" r="8" fill="#fff" stroke="#000" stroke-width="2.4"/>
<circle cx="1047.3" cy="938.1" r="8" fill="#fff" stroke="#000" stroke-width="2.4"/>
<text x="945" y="665.5" font-size="29.5" fill="#9a9a9a" text-anchor="middle" >Myosin II</text>
<text x="850.3" y="699.6" font-size="29.2" fill="#9a9a9a">pulling force, F<tspan font-size="18.4" dx="-5.3" dy="6.1">m</tspan></text>
<text x="1261" y="727" font-size="29" fill="#e3921a" text-anchor="middle">Traction force, F<tspan font-size="18" dx="-4.2" dy="6.5">c</tspan><tspan dx="2.2" dy="-6.5">, of different</tspan></text>
<text x="1261" y="762.5" font-size="29" fill="#e3921a" text-anchor="middle" >types of molecular clutches</text>
<text x="1279.3" y="966.1" font-size="29" fill="#000" text-anchor="middle" >Stable stationary</text>
<text x="1279.3" y="996.5" font-size="29" fill="#000" text-anchor="middle" >points</text>
<text x="996.5" y="1070.5" font-size="37.3" fill="#000" text-anchor="middle" >Actin flow, v</text>
<g transform="translate(790.9,936.4) rotate(-90)" font-size="37.3"><text x="0" y="0">Force,</text><text x="119.7" y="0">F</text><text x="132.4" y="13" font-size="20.5">m</text><text x="152.3" y="0">,</text><text x="173.5" y="0">F</text><text x="186.8" y="13" font-size="20.5">c</text></g>
</svg>
</body></html>
